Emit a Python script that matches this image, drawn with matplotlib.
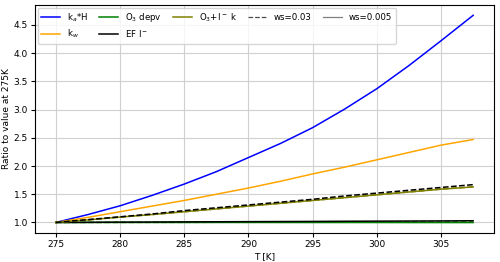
import matplotlib
matplotlib.use("Agg")
import matplotlib.pyplot as plt

temps = [275, 277.5, 280, 282.5, 285, 287.5, 290, 292.5, 295, 297.5, 300, 302.5, 305, 307.5]

ka_h = [1.0, 1.14, 1.295, 1.48, 1.68, 1.90, 2.15, 2.40, 2.68, 3.01, 3.37, 3.78, 4.22, 4.67]
k_w = [1.0, 1.09, 1.19, 1.29, 1.39, 1.50, 1.61, 1.73, 1.86, 1.98, 2.11, 2.24, 2.37, 2.47]
o3_depv_005 = [1.0, 1.0, 1.0, 1.0, 1.0, 1.0, 1.0, 0.999, 0.999, 0.999, 0.999, 0.998, 0.998, 0.998]
o3_depv_03 = [1.0, 1.001, 1.001, 1.002, 1.002, 1.003, 1.003, 1.004, 1.004, 1.005, 1.005, 1.006, 1.006, 1.007]
ef_i_005 = [1.0, 1.002, 1.005, 1.007, 1.010, 1.012, 1.014, 1.016, 1.018, 1.021, 1.023, 1.025, 1.027, 1.030]
ef_i_03 = [1.0, 1.05, 1.10, 1.15, 1.21, 1.26, 1.31, 1.36, 1.41, 1.47, 1.52, 1.57, 1.62, 1.67]
o3_i_k = [1.0, 1.045, 1.095, 1.14, 1.19, 1.24, 1.29, 1.34, 1.39, 1.44, 1.49, 1.54, 1.59, 1.63]

plt.rcParams["font.size"] = 6

fig, ax = plt.subplots(figsize=(5, 2.62), dpi=100)

ax.plot(temps, ka_h, color="blue", lw=1.1, label="k$_a$*H")
ax.plot(temps, k_w, color="orange", lw=1.1, label="k$_w$")
ax.plot(temps, o3_depv_005, color="green", lw=1.1, label="O$_3$ depv")
ax.plot(temps, o3_depv_03, color="green", lw=1.1, ls="--")
ax.plot(temps, ef_i_005, color="black", lw=1.1, label="EF I$^-$")
ax.plot(temps, o3_i_k, color="olive", lw=1.1, label="O$_3$+I$^-$ k")
ax.plot(temps, o3_i_k, color="olive", lw=1.1, ls="--")
ax.plot(temps, ef_i_03, color="black", lw=1.1, ls="--")

# dummy handles for wind speed line styles
ax.plot([], [], color="0.3", ls="--", lw=0.9, label="ws=0.03")
ax.plot([], [], color="0.5", ls="-", lw=0.9, label="ws=0.005")

ax.set_xlabel("T [K]", fontsize=6.5, labelpad=2)
ax.set_ylabel("Ratio to value at 275K", fontsize=6.5, labelpad=2)
ax.tick_params(labelsize=6.5, width=0.8, length=3, pad=2)
for s in ax.spines.values():
    s.set_linewidth(0.8)
ax.grid(True, color="#d0d0d0", lw=0.8)
ax.legend(ncol=5, loc="upper left", fontsize=6.2, handlelength=2.2,
          columnspacing=1.3, borderaxespad=0.3)

plt.subplots_adjust(left=0.07, right=0.988, top=0.981, bottom=0.111)
plt.savefig("out.png", dpi=100)
